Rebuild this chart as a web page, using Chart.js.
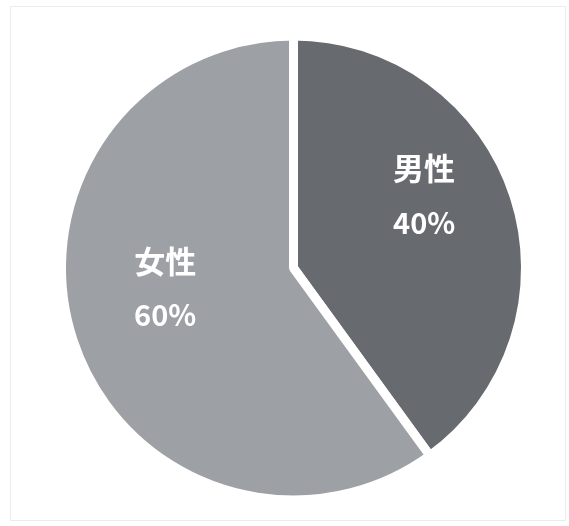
<!DOCTYPE html>
<html>
<head>
<meta charset="utf-8">
<script src="https://cdn.jsdelivr.net/npm/chart.js@4.4.0/dist/chart.umd.min.js"></script>
<style>
  html, body { margin: 0; padding: 0; background: #fff; }
  #wrap { position: relative; width: 569px; height: 526px; }
  #frame { position: absolute; left: 10px; top: 6px; width: 556px; height: 515px; border: 1px solid #ececf0; box-sizing: border-box; }
  canvas { position: absolute; left: 0; top: 0; }
</style>
</head>
<body>
<div id="wrap">
  <div id="frame"></div>
  <canvas id="grafica" width="569" height="526"></canvas>
</div>
<script>
// datos
const categorias = ["男性", "女性"];
const porcentajes = [40, 60];
const colores = ["#676a6f", "#9da0a5"];

// dónde va cada etiqueta: giro (grados) desde el centro del sector y fracción del radio
const ajusteEtiquetas = [
    { giro: -11, fraccion: 0.655 },
    { giro: 9, fraccion: 0.57 }
];

const etiquetasSectores = {
    id: "etiquetasSectores",
    afterDatasetsDraw(chart) {
        const ctx = chart.ctx;
        const meta = chart.getDatasetMeta(0);
        meta.data.forEach((arco, i) => {
            const p = arco.getProps(["x", "y", "startAngle", "endAngle", "outerRadius"], true);
            const ajuste = ajusteEtiquetas[i];
            const ang = (p.startAngle + p.endAngle) / 2 + ajuste.giro * Math.PI / 180;
            const r = (p.outerRadius - 4) * ajuste.fraccion;
            const cx = p.x + Math.cos(ang) * r;
            const cy = p.y + Math.sin(ang) * r;
            ctx.save();
            ctx.fillStyle = "#ffffff";
            ctx.textAlign = "center";
            ctx.textBaseline = "middle";
            ctx.font = "bold 31px 'Noto Sans CJK JP'";
            ctx.fillText(categorias[i], cx, cy - 27);
            ctx.font = "bold 29px 'Noto Sans CJK JP'";
            ctx.fillText(porcentajes[i] + "%", cx, cy + 27);
            ctx.restore();
        });
    }
};

new Chart(document.getElementById("grafica"), {
    type: "pie",
    data: {
        labels: categorias,
        datasets: [{
            data: porcentajes,
            backgroundColor: colores,
            borderColor: "#ffffff",
            borderWidth: 9,
            hoverOffset: 0
        }]
    },
    options: {
        responsive: false,
        animation: false,
        radius: 232,
        layout: { padding: { left: 18, top: 10 } },
        plugins: {
            legend: { display: false },
            tooltip: { enabled: false }
        }
    },
    plugins: [etiquetasSectores]
});
</script>
</body>
</html>
